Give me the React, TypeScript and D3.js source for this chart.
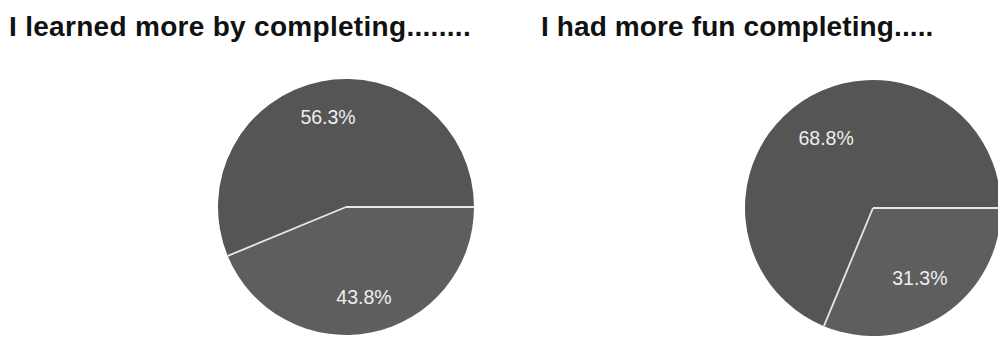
import React from "react";
import * as d3 from "d3";

const titles = ["I learned more by completing........", "I had more fun completing....."];
const sliceNames = ["Option B", "Option A"];
const learnedValues = [43.8, 56.3];
const funValues = [31.3, 68.8];
const sliceColors = ["#5e5e5e", "#555555"];

const W = 998;
const H = 338;

type PieSpec = {
  title: string;
  values: number[];
  cx: number;
  cy: number;
  titleX: number;
  labelFactor: number;
  spacing: number;
};

const pies: PieSpec[] = [
  { title: titles[0], values: learnedValues, cx: 346, cy: 207, titleX: 9, labelFactor: 0.72, spacing: 0.3 },
  { title: titles[1], values: funValues, cx: 873, cy: 208, titleX: 541, labelFactor: 0.66, spacing: 0.12 },
];

const R = 128;

export default function App() {
  const pieGen = d3
    .pie<number>()
    .sort(null)
    .value((d) => d)
    .startAngle(Math.PI / 2)
    .endAngle(Math.PI / 2 + 2 * Math.PI);
  const arcGen = d3.arc<d3.PieArcDatum<number>>().innerRadius(0).outerRadius(R);

  return (
    <svg
      width={W}
      height={H}
      style={{ position: "absolute", left: 0, top: 0, background: "#ffffff" }}
      fontFamily="'Liberation Sans', Arial, sans-serif"
    >
      <rect x={0} y={0} width={W} height={H} fill="#ffffff" />
      {pies.map((p, i) => {
        const arcs = pieGen(p.values);
        const labelArc = d3
          .arc<d3.PieArcDatum<number>>()
          .innerRadius(R * p.labelFactor)
          .outerRadius(R * p.labelFactor);
        return (
          <g key={i}>
            <text
              x={p.titleX}
              y={36}
              fontSize={28}
              fontWeight="bold"
              fill="#111111"
              letterSpacing={p.spacing}
            >
              {p.title}
            </text>
            <g transform={`translate(${p.cx},${p.cy})`}>
              {arcs.map((a, j) => (
                <path key={j} d={arcGen(a) || ""} fill={sliceColors[j]}>
                  <title>{sliceNames[j]}</title>
                </path>
              ))}
              {arcs.map((a, j) => (
                <line
                  key={"s" + j}
                  x1={0}
                  y1={0}
                  x2={R * Math.sin(a.startAngle)}
                  y2={-R * Math.cos(a.startAngle)}
                  stroke="#e6e6e6"
                  strokeWidth={1.8}
                  strokeLinecap="butt"
                />
              ))}
              {arcs.map((a, j) => {
                const [lx, ly] = labelArc.centroid(a);
                return (
                  <text
                    key={"l" + j}
                    x={lx}
                    y={ly}
                    dy="0.36em"
                    textAnchor="middle"
                    fontSize={19.5}
                    fill="#eeeeee"
                  >
                    {a.data.toFixed(1)}%
                  </text>
                );
              })}
            </g>
          </g>
        );
      })}
    </svg>
  );
}
